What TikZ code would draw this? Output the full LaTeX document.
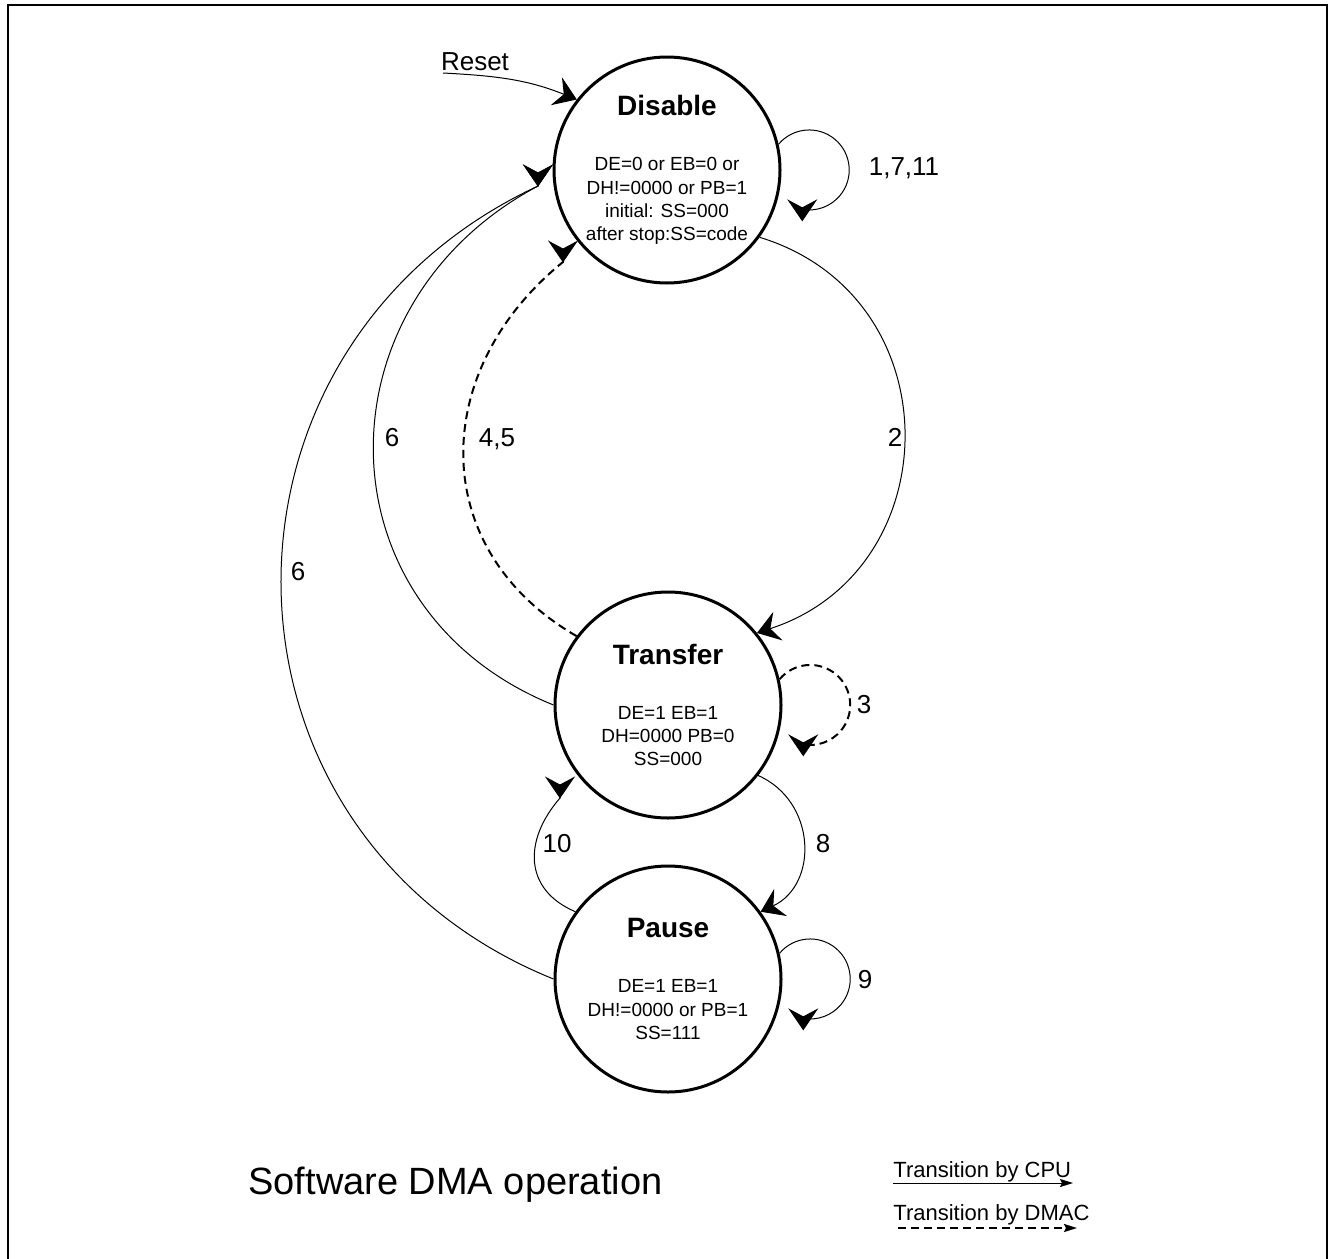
\documentclass[tikz,border=0pt]{standalone}
\usepackage{fontspec}
\setmainfont{Liberation Sans}
\usetikzlibrary{arrows.meta}

\newcommand{\stname}[1]{{\fontsize{14}{16}\selectfont\bfseries #1}}

\begin{document}
\begin{tikzpicture}[x=0.5pt, y=0.5pt,
    state/.style={draw, circle, line width=1.5pt, minimum size=113pt, inner sep=0pt,
      align=center, font=\fontsize{9.5}{11.6}\selectfont},
    cpu/.style={line width=0.5pt, -{Stealth[length=11pt, width=15pt, inset=4pt]}},
    dmac/.style={cpu, line width=1pt, dash pattern=on 4pt off 2.5pt},
    num/.style={font=\fontsize{13}{15}\selectfont},
    legend/.style={font=\fontsize{11}{13}\selectfont, inner sep=0pt}]
  \useasboundingbox (0,0) rectangle (1332,-1258);
  \draw[line width=1pt] (8,-1270) -- (8,-5) -- (1327,-5) -- (1327,-1270);

  % states
  \node[state] (dis) at (667,-170) {\stname{Disable}\\[16pt]
    DE=0 or EB=0 or\\ DH!=0000 or PB=1\\ initial: SS=000\\ after stop:SS=code};
  \node[state] (tra) at (668,-705) {\stname{Transfer}\\[16pt]
    DE=1 EB=1\\ DH=0000 PB=0\\ SS=000};
  \node[state] (pau) at (668,-979) {\stname{Pause}\\[16pt]
    DE=1 EB=1\\ DH!=0000 or PB=1\\ SS=111};

  % reset entry
  \coordinate (rst) at (443,-73);
  \node[num, anchor=base] (rstl) at (475,-70) {Reset};
  \draw[cpu] (rst) to[out=-3, in=158] (dis.142);

  % heads that hang below the circles
  \coordinate (t6) at (538,-186);
  \coordinate (t45) at (563,-262);
  \coordinate (t10) at (560,-798);

  % transitions
  \draw[cpu] (dis.-36) to[out=-17, in=18, looseness=1.31] (tra.39);
  \draw[dmac] (tra.143) to[out=150, in=-141, looseness=1.18] (t45) -- ++(0,-0.5);
  \draw[cpu] (tra.180) to[out=158, in=-152, looseness=1.25] (t6) -- ++(0,-0.5);
  \draw[cpu] (pau.180) to[out=158, in=-155, looseness=1.24] (t6) -- ++(0,-0.5);
  \draw[cpu] (tra.-38) to[out=-24, in=25, looseness=1.2] (pau.36);
  \draw[cpu] (pau.144) to[out=157, in=-131, looseness=1.25] (t10) -- ++(0,-0.5);

  % self loops
  \foreach \s/\t in {dis/cpu, tra/dmac, pau/cpu} {
    \draw[\t] (\s.13) arc[start angle=140, end angle=-100, radius=20pt] -- ++(0,-12);
  }

  % transition numbers
  \node[num, anchor=base] (n1) at (904,-175) {1,7,11};
  \node[num, anchor=base] (n2) at (895,-446) {2};
  \node[num, anchor=base] (n6a) at (392,-446) {6};
  \node[num, anchor=base] (n45) at (497,-446) {4,5};
  \node[num, anchor=base] (n6b) at (298,-580) {6};
  \node[num, anchor=base] (n3) at (864,-713) {3};
  \node[num, anchor=base] (n10) at (557,-852) {10};
  \node[num, anchor=base] (n8) at (823,-852) {8};
  \node[num, anchor=base] (n9) at (865,-988) {9};

  % caption and legend
  \node[legend, anchor=base west, font=\fontsize{19}{22}\selectfont] (title) at (248,-1194) {Software DMA operation};
  \node[legend, anchor=base west] (lcpu) at (893,-1177) {Transition by CPU};
  \node[legend, anchor=base west] (ldmac) at (893,-1220) {Transition by DMAC};
  \coordinate (lc1) at (893,-1183);
  \coordinate (lc2) at (1073,-1183);
  \coordinate (ld1) at (898,-1228);
  \coordinate (ld2) at (1077,-1228);
  \draw[line width=0.5pt, -{Stealth[length=6.5pt, width=4pt, inset=1pt]}] (lc1) -- (lc2);
  \draw[line width=1pt, dash pattern=on 4pt off 2.5pt, -{Stealth[length=6.5pt, width=4pt, inset=1pt]}] (ld1) -- (ld2);
\end{tikzpicture}
\end{document}
